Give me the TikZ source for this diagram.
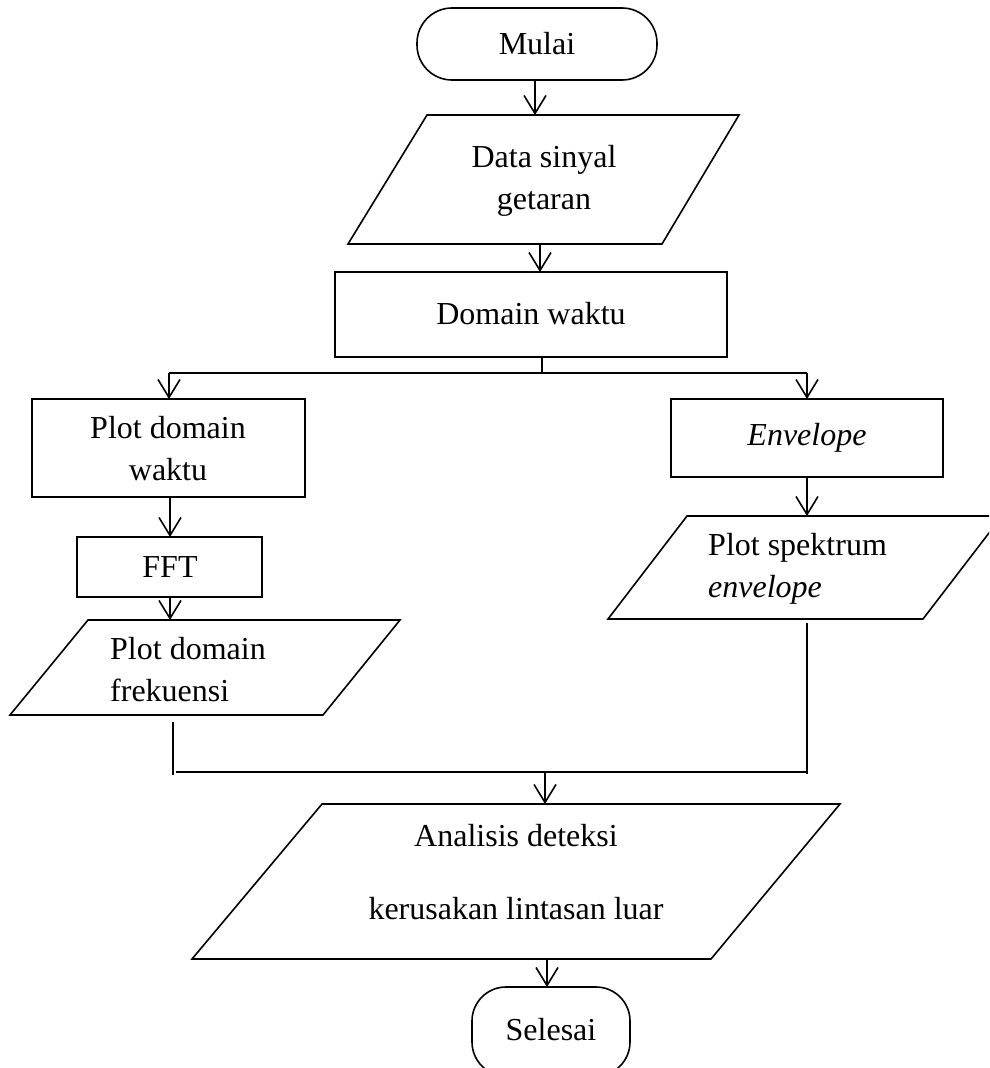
\documentclass[tikz,border=0pt]{standalone}
\usepackage{fontspec}
\setmainfont{Liberation Serif}
\usetikzlibrary{arrows.meta}
\begin{document}
\begin{tikzpicture}[x=1pt,y=-1pt,
  shp/.style={line width=1.6pt, line join=miter},
  conn/.style={line width=1.6pt},
  arr/.style={conn, -{Straight Barb[length=18pt,width=22pt,line width=1.6pt]}},
  txt/.style={font=\fontsize{32}{42}\selectfont, inner sep=0pt, align=center},
  ltxt/.style={font=\fontsize{32}{42}\selectfont, inner sep=0pt, align=left, anchor=west}]
\useasboundingbox (0,0) rectangle (989,1068);
\clip (0,0) rectangle (989,1068);

% Mulai
\draw[shp, rounded corners=35pt] (417,8) rectangle (657,80);
\node[txt] (mulai) at (537,44) {Mulai};
\coordinate (mulaiB) at (535,80);

% Data sinyal getaran
\draw[shp] (427,115) -- (739,115) -- (662,244) -- (348,244) -- cycle;
\coordinate (dataT) at (535,115);
\coordinate (dataB) at (540,244);
\node[txt] (data) at (544,181) {Data sinyal\\getaran};

% Domain waktu
\draw[shp] (335,272) rectangle (727,357);
\node[txt] (dw) at (531,314) {Domain waktu};
\coordinate (dwT) at (540,272);
\coordinate (dwB) at (542,357);
\coordinate (split) at (542,373);
\coordinate (splitL) at (169,373);
\coordinate (splitR) at (807,373);

% Plot domain waktu
\draw[shp] (32,399) rectangle (305,497);
\node[txt] (pdw) at (168,449) {Plot domain\\waktu};
\coordinate (pdwT) at (169,399);
\coordinate (pdwB) at (170,497);

% FFT
\draw[shp] (77,537) rectangle (262,597);
\node[txt] (fft) at (170,567) {FFT};
\coordinate (fftT) at (170,537);
\coordinate (fftB) at (170,597);

% Plot domain frekuensi
\draw[shp] (88,620) -- (400,620) -- (323,715) -- (10,715) -- cycle;
\node[ltxt] (pdf) at (110,670) {Plot domain\\frekuensi};
\coordinate (pdfT) at (170,620);
\coordinate (pdfB) at (173,722);
\coordinate (mergeL) at (173,775);

% Envelope
\draw[shp] (671,399) rectangle (943,477);
\node[txt] (env) at (807,438) {\itshape Envelope};
\coordinate (envT) at (807,399);
\coordinate (envB) at (807,477);

% Plot spektrum envelope
\draw[shp] (687,516) -- (1002,516) -- (923,619) -- (608,619) -- cycle;
\node[ltxt] (pse) at (708,569) {Plot spektrum\\\textit{envelope}};
\coordinate (pseT) at (807,516);
\coordinate (pseB) at (807,623);
\coordinate (mergeR) at (807,774);

% merge
\coordinate (mergeM) at (545,772);

% Analisis
\draw[shp] (322,804) -- (840,804) -- (711,959) -- (192,959) -- cycle;
\node[txt, font=\fontsize{32}{73}\selectfont] (an) at (516,872) {Analisis deteksi\\kerusakan lintasan luar};
\coordinate (anT) at (545,804);
\coordinate (anB) at (547,959);

% Selesai
\draw[shp, rounded corners=34pt] (472,987) rectangle (630,1076);
\node[txt] (sel) at (551,1030) {Selesai};
\coordinate (selT) at (547,987);

% connectors
\draw[arr] (mulaiB) -- (dataT);
\draw[arr] (dataB) -- (dwT);
\draw[conn] (dwB) -- (split);
\draw[conn] (splitL) -- (splitR);
\draw[arr] (splitL) -- (pdwT);
\draw[arr] (splitR) -- (envT);
\draw[arr] (pdwB) -- (fftT);
\draw[arr] (fftB) -- (pdfT);
\draw[arr] (envB) -- (pseT);
\draw[conn] (pdfB) -- (mergeL);
\draw[conn] (pseB) -- (mergeR);
\draw[conn] (176,772) -- (mergeR |- mergeM);
\draw[arr] (mergeM) -- (anT);
\draw[arr] (anB) -- (selT);
\end{tikzpicture}
\end{document}
